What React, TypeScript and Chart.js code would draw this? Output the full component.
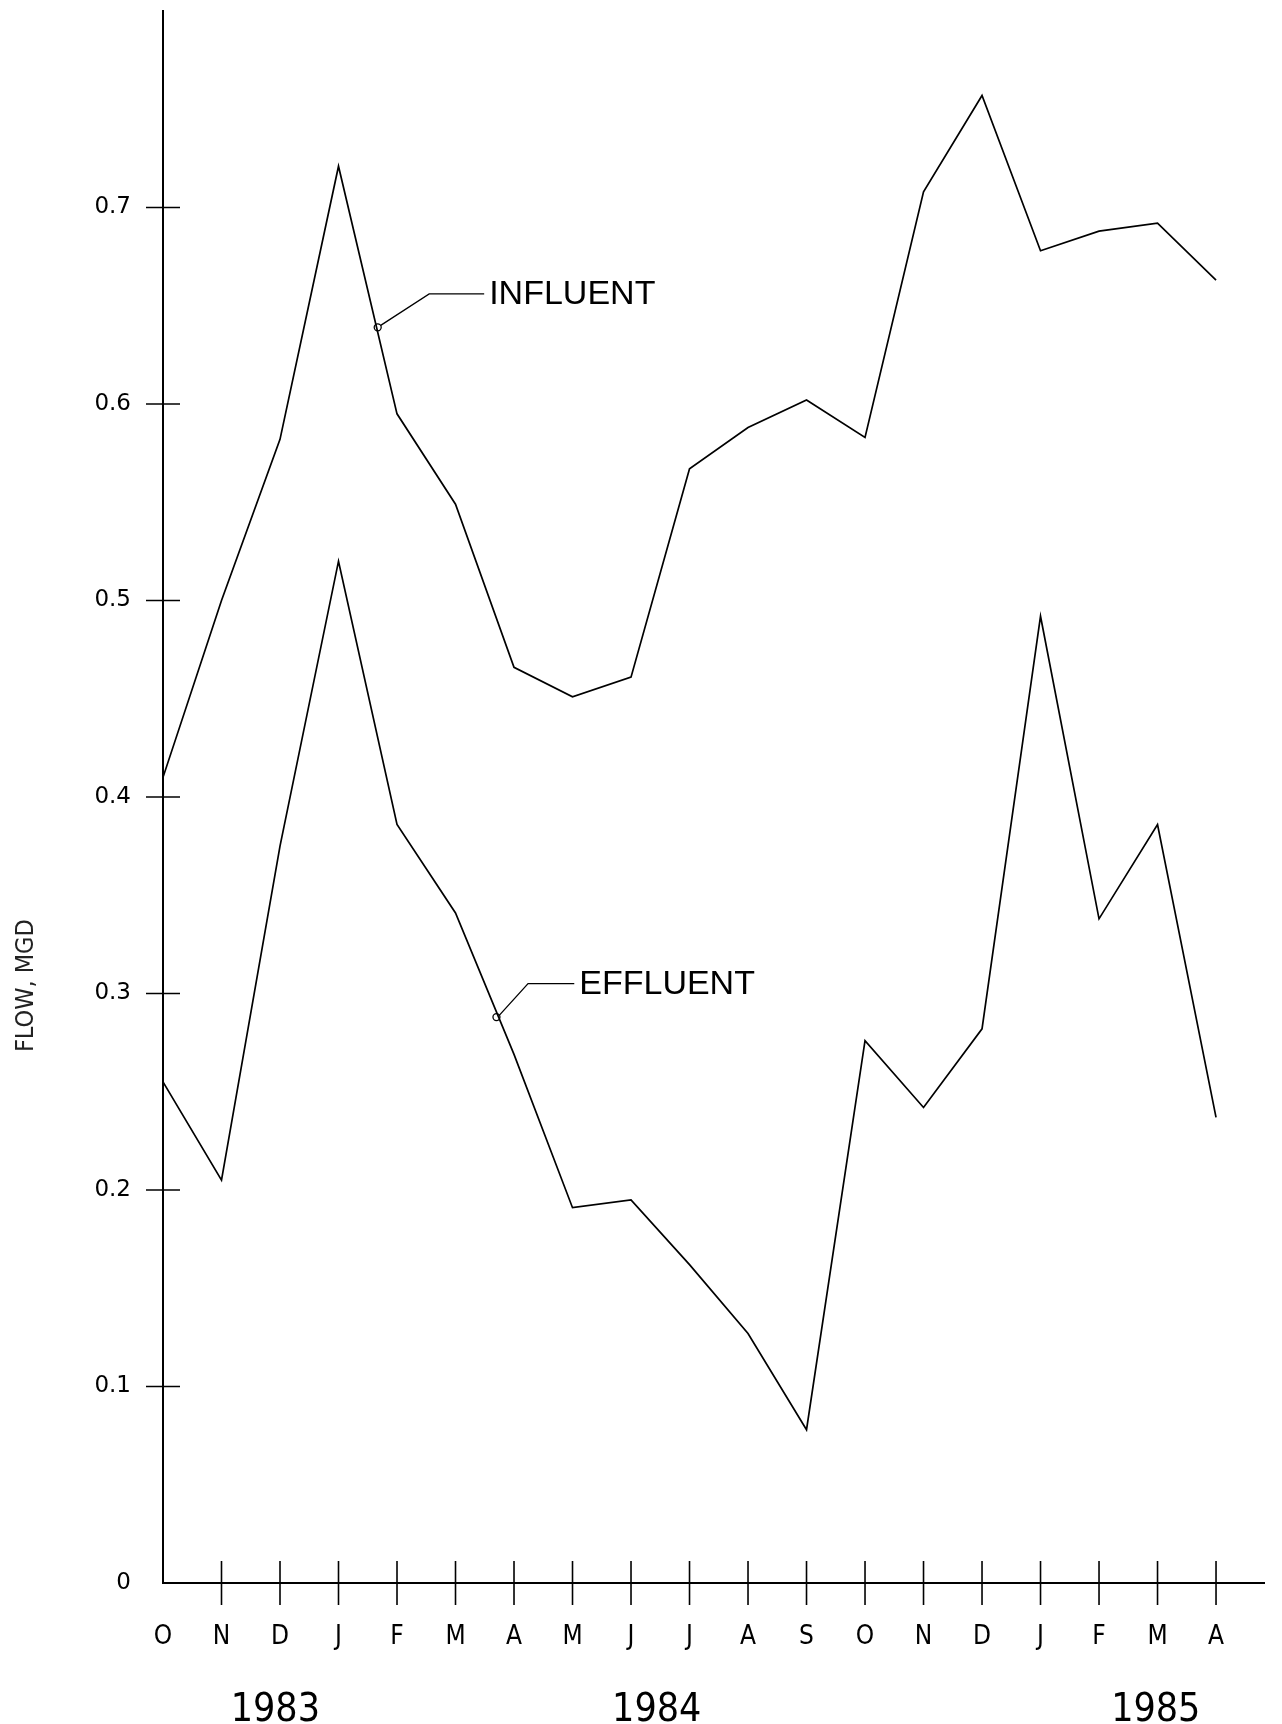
import React, { useEffect, useRef } from 'react';
import { Chart, registerables } from 'chart.js';

Chart.register(...registerables);

// ---- data ----
const months = ['O', 'N', 'D', 'J', 'F', 'M', 'A', 'M', 'J', 'J', 'A', 'S', 'O', 'N', 'D', 'J', 'F', 'M', 'A'];
const influent = [0.410, 0.500, 0.582, 0.721, 0.595, 0.549, 0.466, 0.451, 0.461, 0.567, 0.588, 0.602, 0.583, 0.708, 0.757, 0.678, 0.688, 0.692, 0.663];
const effluent = [0.255, 0.205, 0.375, 0.520, 0.386, 0.341, 0.269, 0.191, 0.195, 0.162, 0.127, 0.078, 0.276, 0.242, 0.282, 0.492, 0.338, 0.386, 0.237];
const yTickValues = [0, 0.1, 0.2, 0.3, 0.4, 0.5, 0.6, 0.7];
const years = ['1983', '1984', '1985'];
const yearIndex = [1.92, 8.44, 16.97];
const seriesNames = ['INFLUENT', 'EFFLUENT'];
// leader lines: [circle point, elbow, end] in (month index, value)
const influentLeader = [[3.67, 0.639], [4.55, 0.656], [5.49, 0.656]];
const effluentLeader = [[5.70, 0.288], [6.24, 0.305], [7.03, 0.305]];
const yTitle = 'FLOW, MGD';
const yTitleAt = 0.304;

const NARROW = "'Liberation Sans Narrow', 'DejaVu Sans Condensed', 'Arial Narrow', sans-serif";
const REG = "'Liberation Sans', 'DejaVu Sans', sans-serif";

const decorPlugin = {
  id: 'decor',
  afterDraw(chart: any) {
    const ctx = chart.ctx;
    const xs = chart.scales.x;
    const ys = chart.scales.y;
    const axisY = ys.getPixelForValue(0);
    const axisX = xs.getPixelForValue(0);
    ctx.save();
    ctx.strokeStyle = '#000';
    ctx.fillStyle = '#000';
    ctx.lineWidth = 1.6;
    // x tick marks crossing the axis
    for (let i = 1; i < months.length; i++) {
      const px = xs.getPixelForValue(i);
      ctx.beginPath();
      ctx.moveTo(px, axisY - 22);
      ctx.lineTo(px, axisY + 22);
      ctx.stroke();
    }
    // y tick marks crossing the axis
    for (let i = 1; i < yTickValues.length; i++) {
      const py = ys.getPixelForValue(yTickValues[i]);
      ctx.beginPath();
      ctx.moveTo(axisX - 17, py);
      ctx.lineTo(axisX + 17, py);
      ctx.stroke();
    }
    // years
    ctx.font = `39px ${NARROW}`;
    ctx.textAlign = 'center';
    ctx.textBaseline = 'middle';
    years.forEach((y, i) => {
      ctx.fillText(y, xs.getPixelForValue(yearIndex[i]), axisY + 128);
    });
    // y title
    ctx.save();
    ctx.translate(26, ys.getPixelForValue(yTitleAt));
    ctx.rotate(-Math.PI / 2);
    ctx.font = `25px ${NARROW}`;
    ctx.fillStyle = '#222';
    ctx.fillText(yTitle, 0, 0);
    ctx.restore();
    // annotations
    const leaders = [influentLeader, effluentLeader];
    leaders.forEach((pts, k) => {
      const p = pts.map(([a, b]) => [xs.getPixelForValue(a), ys.getPixelForValue(b)]);
      ctx.lineWidth = 1.3;
      ctx.beginPath();
      ctx.arc(p[0][0], p[0][1], 3.5, 0, Math.PI * 2);
      ctx.stroke();
      ctx.beginPath();
      ctx.moveTo(p[0][0] + 3, p[0][1] - 2);
      ctx.lineTo(p[1][0], p[1][1]);
      ctx.lineTo(p[2][0], p[2][1]);
      ctx.stroke();
      ctx.font = `34px ${REG}`;
      ctx.textAlign = 'left';
      ctx.textBaseline = 'middle';
      ctx.fillText(seriesNames[k], p[2][0] + 5, p[2][1] + 1);
    });
    ctx.restore();
  },
};

export default function App() {
  const ref = useRef<HTMLCanvasElement>(null);
  useEffect(() => {
    if (!ref.current) return;
    const chart = new Chart(ref.current, {
      type: 'line',
      data: {
        datasets: [
          {
            label: seriesNames[0],
            data: influent.map((v, i) => ({ x: i, y: v })),
            borderColor: '#000',
            borderWidth: 1.7,
            pointRadius: 0,
            tension: 0,
          },
          {
            label: seriesNames[1],
            data: effluent.map((v, i) => ({ x: i, y: v })),
            borderColor: '#000',
            borderWidth: 1.7,
            pointRadius: 0,
            tension: 0,
          },
        ],
      },
      options: {
        animation: false,
        responsive: false,
        events: [],
        layout: { padding: { top: 11, right: 18, left: 0, bottom: 0 } },
        plugins: { legend: { display: false }, tooltip: { enabled: false } },
        scales: {
          x: {
            type: 'linear',
            min: 0,
            max: 18.82,
            afterBuildTicks: (s: any) => {
              s.ticks = months.map((_, i) => ({ value: i }));
            },
            afterFit: (s: any) => {
              s.height = 141;
              s.paddingLeft = 0;
              s.paddingRight = 0;
            },
            ticks: {
              autoSkip: false,
              maxRotation: 0,
              padding: 31,
              color: '#000',
              font: { family: NARROW, size: 26 },
              callback: (v: any) => months[Math.round(v)] ?? '',
            },
            grid: { display: false },
            border: { display: true, color: '#000', width: 2 },
          },
          y: {
            type: 'linear',
            min: 0,
            max: 0.8,
            afterBuildTicks: (s: any) => {
              s.ticks = yTickValues.map((v) => ({ value: v }));
            },
            afterFit: (s: any) => {
              s.width = 163;
              s.paddingTop = 0;
              s.paddingBottom = 0;
            },
            ticks: {
              padding: 24,
              color: '#000',
              font: { family: "'DejaVu Sans', sans-serif", size: 23 },
              callback: (v: any) => (v === 0 ? '0' : Number(v).toFixed(1)),
            },
            grid: { display: false },
            border: { display: true, color: '#000', width: 2 },
          },
        },
      },
      plugins: [decorPlugin],
    } as any);
    return () => chart.destroy();
  }, []);
  return (
    <div style={{ position: 'absolute', left: 0, top: 0, width: 1282, height: 1724, background: '#fff' }}>
      <canvas ref={ref} width={1282} height={1724} />
    </div>
  );
}
